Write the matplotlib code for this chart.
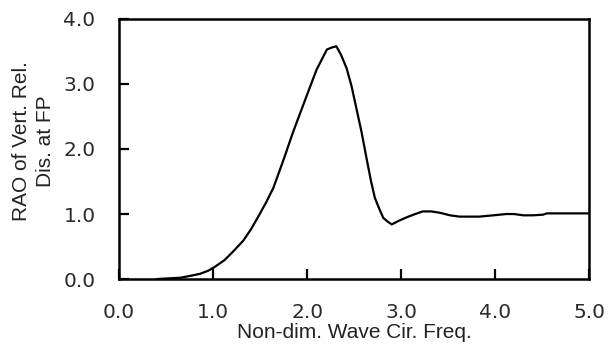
import matplotlib
matplotlib.use("Agg")
import matplotlib.pyplot as plt

# curve
freq = [0.40, 0.52, 0.65, 0.76, 0.86, 0.95, 1.02, 1.12, 1.21, 1.32, 1.40, 1.48,
        1.56, 1.64, 1.75, 1.85, 1.99, 2.10, 2.21, 2.26, 2.31, 2.36, 2.42,
        2.47, 2.52, 2.58, 2.63, 2.68, 2.72, 2.77, 2.81, 2.86, 2.90, 2.98,
        3.06, 3.15, 3.23, 3.32, 3.41, 3.52, 3.62, 3.72, 3.83, 3.98, 4.12,
        4.20, 4.30, 4.40, 4.51, 4.55, 4.75, 5.00]
rao = [0.00, 0.01, 0.02, 0.05, 0.08, 0.13, 0.19, 0.29, 0.42, 0.59, 0.76, 0.96,
       1.17, 1.40, 1.84, 2.26, 2.80, 3.22, 3.53, 3.56, 3.58, 3.45, 3.24,
       2.98, 2.65, 2.25, 1.87, 1.50, 1.25, 1.07, 0.94, 0.88, 0.84, 0.90,
       0.95, 1.00, 1.04, 1.04, 1.02, 0.98, 0.96, 0.96, 0.96, 0.98, 1.00,
       1.00, 0.98, 0.98, 0.99, 1.01, 1.01, 1.01]

x_ticks = [0.0, 1.0, 2.0, 3.0, 4.0, 5.0]
y_ticks = [0.0, 1.0, 2.0, 3.0, 4.0]

plt.rcParams['font.family'] = ['Liberation Sans', 'DejaVu Sans']

fig = plt.figure(figsize=(6.08, 3.51), dpi=100)
ax = fig.add_axes([0.196, 0.205, 0.773, 0.741])

ax.plot(freq, rao, color='black', linewidth=1.6)

ax.set_xlim(0, 5)
ax.set_ylim(0, 4)
ax.set_xticks(x_ticks)
ax.set_yticks(y_ticks)
tick_font = dict(fontsize=14.5, color='#2a2a2a', family=['DejaVu Sans'])
ax.set_xticklabels(['%.1f' % v for v in x_ticks], **tick_font)
ax.set_yticklabels(['%.1f' % v for v in y_ticks], **tick_font)
ax.tick_params(direction='in', length=7, width=1.6, top=False, right=False)
ax.tick_params(axis='x', pad=17)
ax.tick_params(axis='y', pad=17)
for s in ax.spines.values():
    s.set_linewidth(1.8)

ax.set_xlabel('Non-dim. Wave Cir. Freq.', fontsize=15, labelpad=1, color='#222222')
ax.set_ylabel('RAO of Vert. Rel.\nDis. at FP', fontsize=15, labelpad=4,
              color='#222222', linespacing=1.35)
ax.yaxis.set_label_coords(-0.137, 0.53)

fig.savefig('out.png', dpi=100)
